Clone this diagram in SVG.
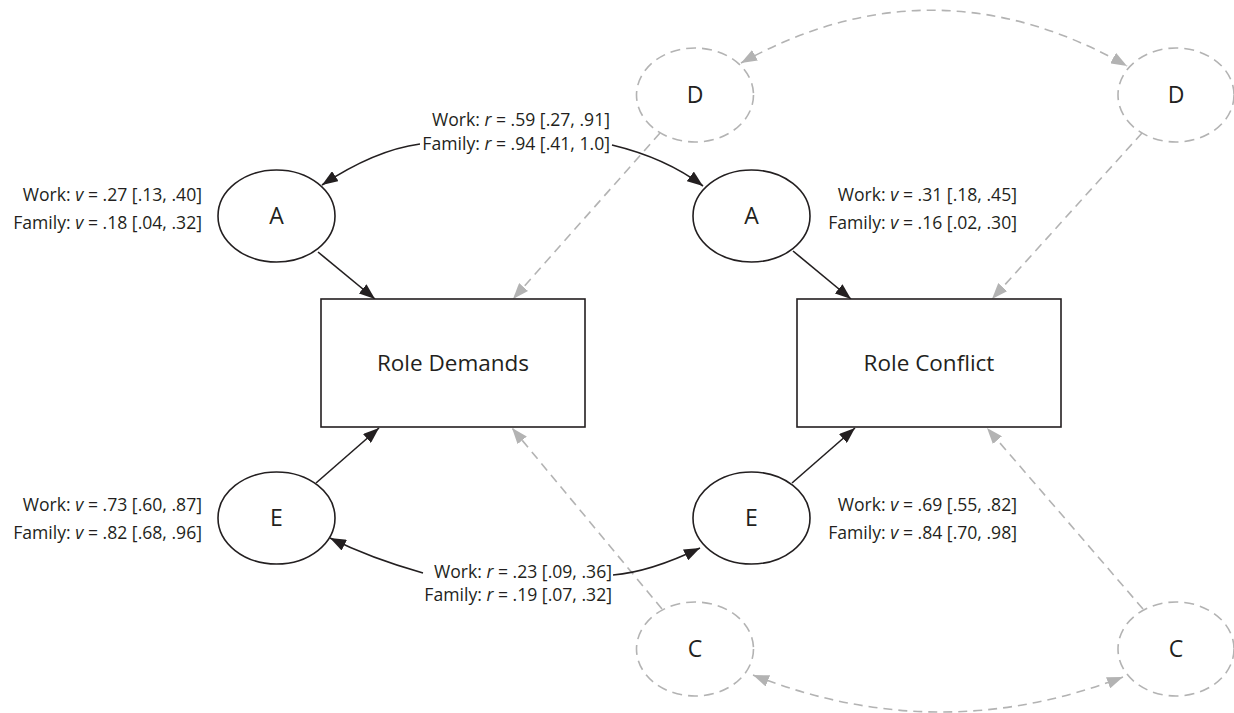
<svg xmlns="http://www.w3.org/2000/svg" width="1234" height="713" viewBox="0 0 1234 713">
<defs>
<style>
.bg{fill:#ffffff}
.node{fill:#ffffff;stroke:#231f20;stroke-width:1.6}
.latent{fill:none;stroke:#b3b3b3;stroke-width:1.6;stroke-dasharray:10 6}
.lbl{font-family:"Open Sans","Liberation Sans",sans-serif;fill:#231f20}
.big{font-size:23px;text-anchor:middle}
.box{font-size:22.5px;text-anchor:middle}
.stat{font-size:17.6px;text-anchor:end}
.solid{fill:none;stroke:#231f20;stroke-width:1.6}
.dash{fill:none;stroke:#b3b3b3;stroke-width:1.6;stroke-dasharray:9 6}
</style>
<marker id="ab" viewBox="0 0 16 12" refX="16" refY="6" markerWidth="16" markerHeight="12" markerUnits="userSpaceOnUse" orient="auto-start-reverse">
<path d="M0,0 L16,6 L0,12 z" fill="#231f20"/>
</marker>
<marker id="ag" viewBox="0 0 16 12" refX="16" refY="6" markerWidth="16" markerHeight="12" markerUnits="userSpaceOnUse" orient="auto-start-reverse">
<path d="M0,0 L16,6 L0,12 z" fill="#b3b3b3"/>
</marker>
</defs>
<rect class="bg" x="0" y="0" width="1234" height="713"/>

<g id="connectors">
<path class="dash" d="M660,133 L513,299" marker-end="url(#ag)"/>
<path class="dash" d="M1142,133 L992,299" marker-end="url(#ag)"/>
<path class="dash" d="M662,609 L512,428" marker-end="url(#ag)"/>
<path class="dash" d="M1143,609 L987,428" marker-end="url(#ag)"/>
<path class="dash" d="M741,63 Q934,-44 1127,66" marker-start="url(#ag)" marker-end="url(#ag)"/>
<path class="dash" d="M753,675 Q938,748 1123,677" marker-start="url(#ag)" marker-end="url(#ag)"/>
<path class="solid" d="M318,252 L375,299" marker-end="url(#ab)"/>
<path class="solid" d="M793,251 L851,299" marker-end="url(#ab)"/>
<path class="solid" d="M316,483 L379,428" marker-end="url(#ab)"/>
<path class="solid" d="M792,483 L855,428" marker-end="url(#ab)"/>
<path class="solid" d="M420,144 Q375,150 322,185" marker-end="url(#ab)"/>
<path class="solid" d="M612,145 Q666,158 703,186" marker-end="url(#ab)"/>
<path class="solid" d="M423,573 Q370,558 330,538" marker-end="url(#ab)"/>
<path class="solid" d="M613,575 Q650,572 700,548" marker-end="url(#ab)"/>
</g>

<g id="node-D1"><ellipse class="latent" cx="695" cy="95" rx="58.5" ry="47"/><text class="lbl big" x="695" y="103">D</text></g>
<g id="node-D2"><ellipse class="latent" cx="1176" cy="95" rx="58" ry="47"/><text class="lbl big" x="1176" y="103">D</text></g>
<g id="node-C1"><ellipse class="latent" cx="695" cy="649" rx="58.5" ry="47"/><text class="lbl big" x="695" y="657">C</text></g>
<g id="node-C2"><ellipse class="latent" cx="1176" cy="649" rx="58" ry="47"/><text class="lbl big" x="1176" y="657">C</text></g>

<g id="node-A1"><ellipse class="node" cx="276.5" cy="216" rx="58.5" ry="46"/><text class="lbl big" x="276.5" y="224">A</text></g>
<g id="node-A2"><ellipse class="node" cx="751.5" cy="216" rx="58.5" ry="46"/><text class="lbl big" x="751.5" y="224">A</text></g>
<g id="node-E1"><ellipse class="node" cx="276.5" cy="518" rx="58.5" ry="46"/><text class="lbl big" x="276.5" y="526">E</text></g>
<g id="node-E2"><ellipse class="node" cx="751.5" cy="518" rx="58.5" ry="46"/><text class="lbl big" x="751.5" y="526">E</text></g>

<g id="node-RoleDemands"><rect class="node" x="321" y="299" width="264" height="128"/><text class="lbl box" x="453" y="371">Role Demands</text></g>
<g id="node-RoleConflict"><rect class="node" x="797" y="299" width="264" height="128"/><text class="lbl box" x="929" y="371">Role Conflict</text></g>

<g id="labels">
<text class="lbl stat" x="202" y="201">Work: <tspan font-style="italic">v</tspan> = .27 [.13, .40]</text>
<text class="lbl stat" x="202" y="229">Family: <tspan font-style="italic">v</tspan> = .18 [.04, .32]</text>
<text class="lbl stat" x="1017" y="201">Work: <tspan font-style="italic">v</tspan> = .31 [.18, .45]</text>
<text class="lbl stat" x="1017" y="229">Family: <tspan font-style="italic">v</tspan> = .16 [.02, .30]</text>
<text class="lbl stat" x="202" y="511">Work: <tspan font-style="italic">v</tspan> = .73 [.60, .87]</text>
<text class="lbl stat" x="202" y="539">Family: <tspan font-style="italic">v</tspan> = .82 [.68, .96]</text>
<text class="lbl stat" x="1017" y="511">Work: <tspan font-style="italic">v</tspan> = .69 [.55, .82]</text>
<text class="lbl stat" x="1017" y="539">Family: <tspan font-style="italic">v</tspan> = .84 [.70, .98]</text>
<text class="lbl stat" x="610" y="126">Work: <tspan font-style="italic">r</tspan> = .59 [.27, .91]</text>
<text class="lbl stat" x="610" y="150">Family: <tspan font-style="italic">r</tspan> = .94 [.41, 1.0]</text>
<text class="lbl stat" x="612" y="578">Work: <tspan font-style="italic">r</tspan> = .23 [.09, .36]</text>
<text class="lbl stat" x="612" y="601">Family: <tspan font-style="italic">r</tspan> = .19 [.07, .32]</text>
</g>
</svg>
